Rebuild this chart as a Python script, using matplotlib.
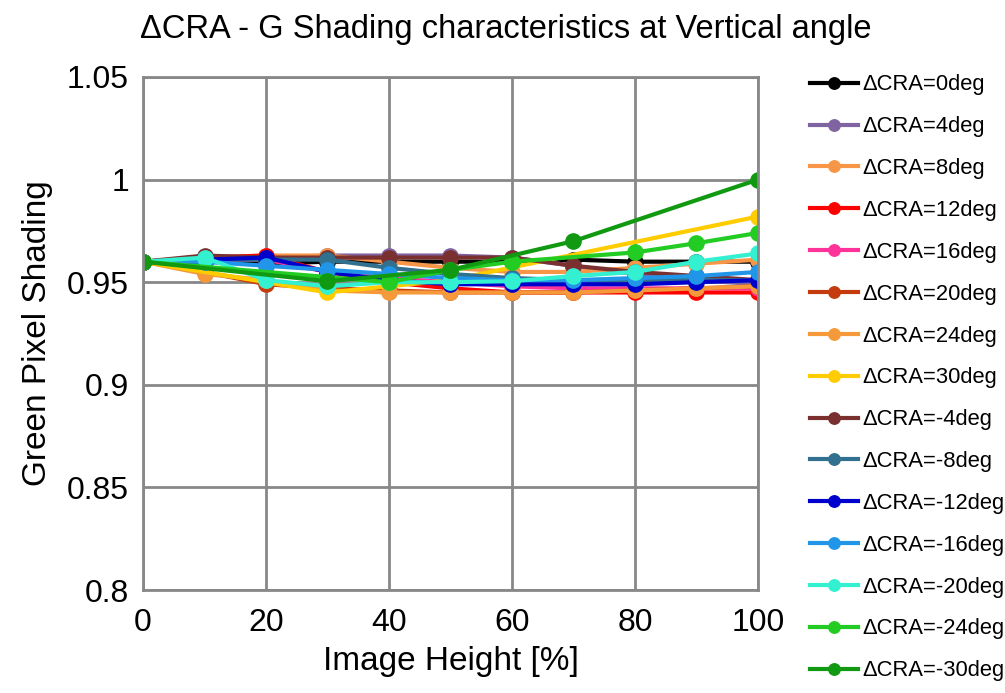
import matplotlib
matplotlib.use("Agg")
import matplotlib.pyplot as plt
from matplotlib.ticker import FuncFormatter

# data
labels = ["ΔCRA=0deg", "ΔCRA=4deg", "ΔCRA=8deg", "ΔCRA=12deg", "ΔCRA=16deg",
          "ΔCRA=20deg", "ΔCRA=24deg", "ΔCRA=30deg", "ΔCRA=-4deg", "ΔCRA=-8deg",
          "ΔCRA=-12deg", "ΔCRA=-16deg", "ΔCRA=-20deg", "ΔCRA=-24deg", "ΔCRA=-30deg"]
colors = ["#000000", "#8064A2", "#F79646", "#FF0000", "#FF3399",
          "#C43C0E", "#F5993A", "#FFCC00", "#7B3030", "#31708F",
          "#0000CC", "#2196E8", "#33F0D0", "#22CC22", "#119911"]

x_all = [0, 10, 20, 30, 40, 50, 60, 70, 80, 90, 100]
x_30 = [0, 30, 50, 100]
x_m24 = [0, 40, 50, 60, 80, 90, 100]
x_m30 = [0, 30, 50, 70, 100]

y_0 = [0.96, 0.96, 0.959, 0.96, 0.96, 0.96, 0.96, 0.961, 0.96, 0.96, 0.96]
y_4 = [0.96, 0.962, 0.962, 0.963, 0.963, 0.963, 0.962, 0.958, 0.954, 0.951, 0.949]
y_8 = [0.96, 0.962, 0.963, 0.963, 0.96, 0.957, 0.955, 0.955, 0.957, 0.959, 0.961]
y_12 = [0.96, 0.962, 0.963, 0.955, 0.95, 0.947, 0.945, 0.945, 0.945, 0.945, 0.945]
y_16 = [0.96, 0.961, 0.961, 0.955, 0.952, 0.95, 0.948, 0.947, 0.947, 0.947, 0.947]
y_20 = [0.96, 0.955, 0.949, 0.947, 0.946, 0.945, 0.945, 0.945, 0.946, 0.947, 0.948]
y_24 = [0.96, 0.954, 0.951, 0.946, 0.945, 0.945, 0.945, 0.945, 0.946, 0.947, 0.948]
y_30 = [0.96, 0.945, 0.951, 0.982]
y_m4 = [0.96, 0.963, 0.962, 0.962, 0.962, 0.962, 0.962, 0.958, 0.955, 0.953, 0.951]
y_m8 = [0.96, 0.961, 0.961, 0.961, 0.957, 0.954, 0.952, 0.951, 0.951, 0.951, 0.951]
y_m12 = [0.96, 0.961, 0.962, 0.955, 0.951, 0.949, 0.949, 0.949, 0.949, 0.95, 0.951]
y_m16 = [0.96, 0.96, 0.958, 0.956, 0.954, 0.952, 0.951, 0.951, 0.952, 0.953, 0.955]
y_m20 = [0.96, 0.962, 0.951, 0.948, 0.95, 0.95, 0.9505, 0.953, 0.955, 0.96, 0.964]
y_m24 = [0.96, 0.95, 0.956, 0.96, 0.9645, 0.969, 0.974]
y_m30 = [0.96, 0.9505, 0.956, 0.97, 1.0]

xs = [x_all] * 7 + [x_30] + [x_all] * 5 + [x_m24, x_m30]
ys = [y_0, y_4, y_8, y_12, y_16, y_20, y_24, y_30,
      y_m4, y_m8, y_m12, y_m16, y_m20, y_m24, y_m30]

plt.rcParams['font.family'] = ['Liberation Sans', 'DejaVu Sans']

fig = plt.figure(figsize=(10.05, 6.93), dpi=100)
ax = fig.add_axes([0.1423, 0.1486, 0.6119, 0.7403])

for x, y, c, l in zip(xs, ys, colors, labels):
    ax.plot(x, y, color=c, lw=3, marker="o", ms=11, label=l)

ax.set_xlim(0, 100)
ax.set_ylim(0.8, 1.05)
ax.set_xticks([0, 20, 40, 60, 80, 100])
ax.set_yticks([0.8, 0.85, 0.9, 0.95, 1.0, 1.05])
ax.yaxis.set_major_formatter(FuncFormatter(lambda v, p: "%g" % round(v, 2)))
ax.grid(True, color="#888888", lw=2)
ax.set_axisbelow(True)
for s in ax.spines.values():
    s.set_color("#888888")
    s.set_linewidth(2)
ax.tick_params(length=0, labelsize=23)
ax.tick_params(axis="y", pad=10)
ax.tick_params(axis="x", pad=13)

ax.set_xlabel("Image Height [%]", fontsize=24, labelpad=6)
ax.set_ylabel("Green Pixel Shading", fontsize=24, labelpad=10)
fig.text(0.503, 0.958, "ΔCRA - G Shading characteristics at Vertical angle",
         fontsize=23.5, ha="center", va="center")

ax.legend(loc="upper left", bbox_to_anchor=(1.07, 1.022), frameon=False,
          fontsize=15.8, labelspacing=0.95, handlelength=2.2, handletextpad=0.2,
          markerscale=0.75, borderaxespad=0)

fig.savefig("out.png", dpi=100)
